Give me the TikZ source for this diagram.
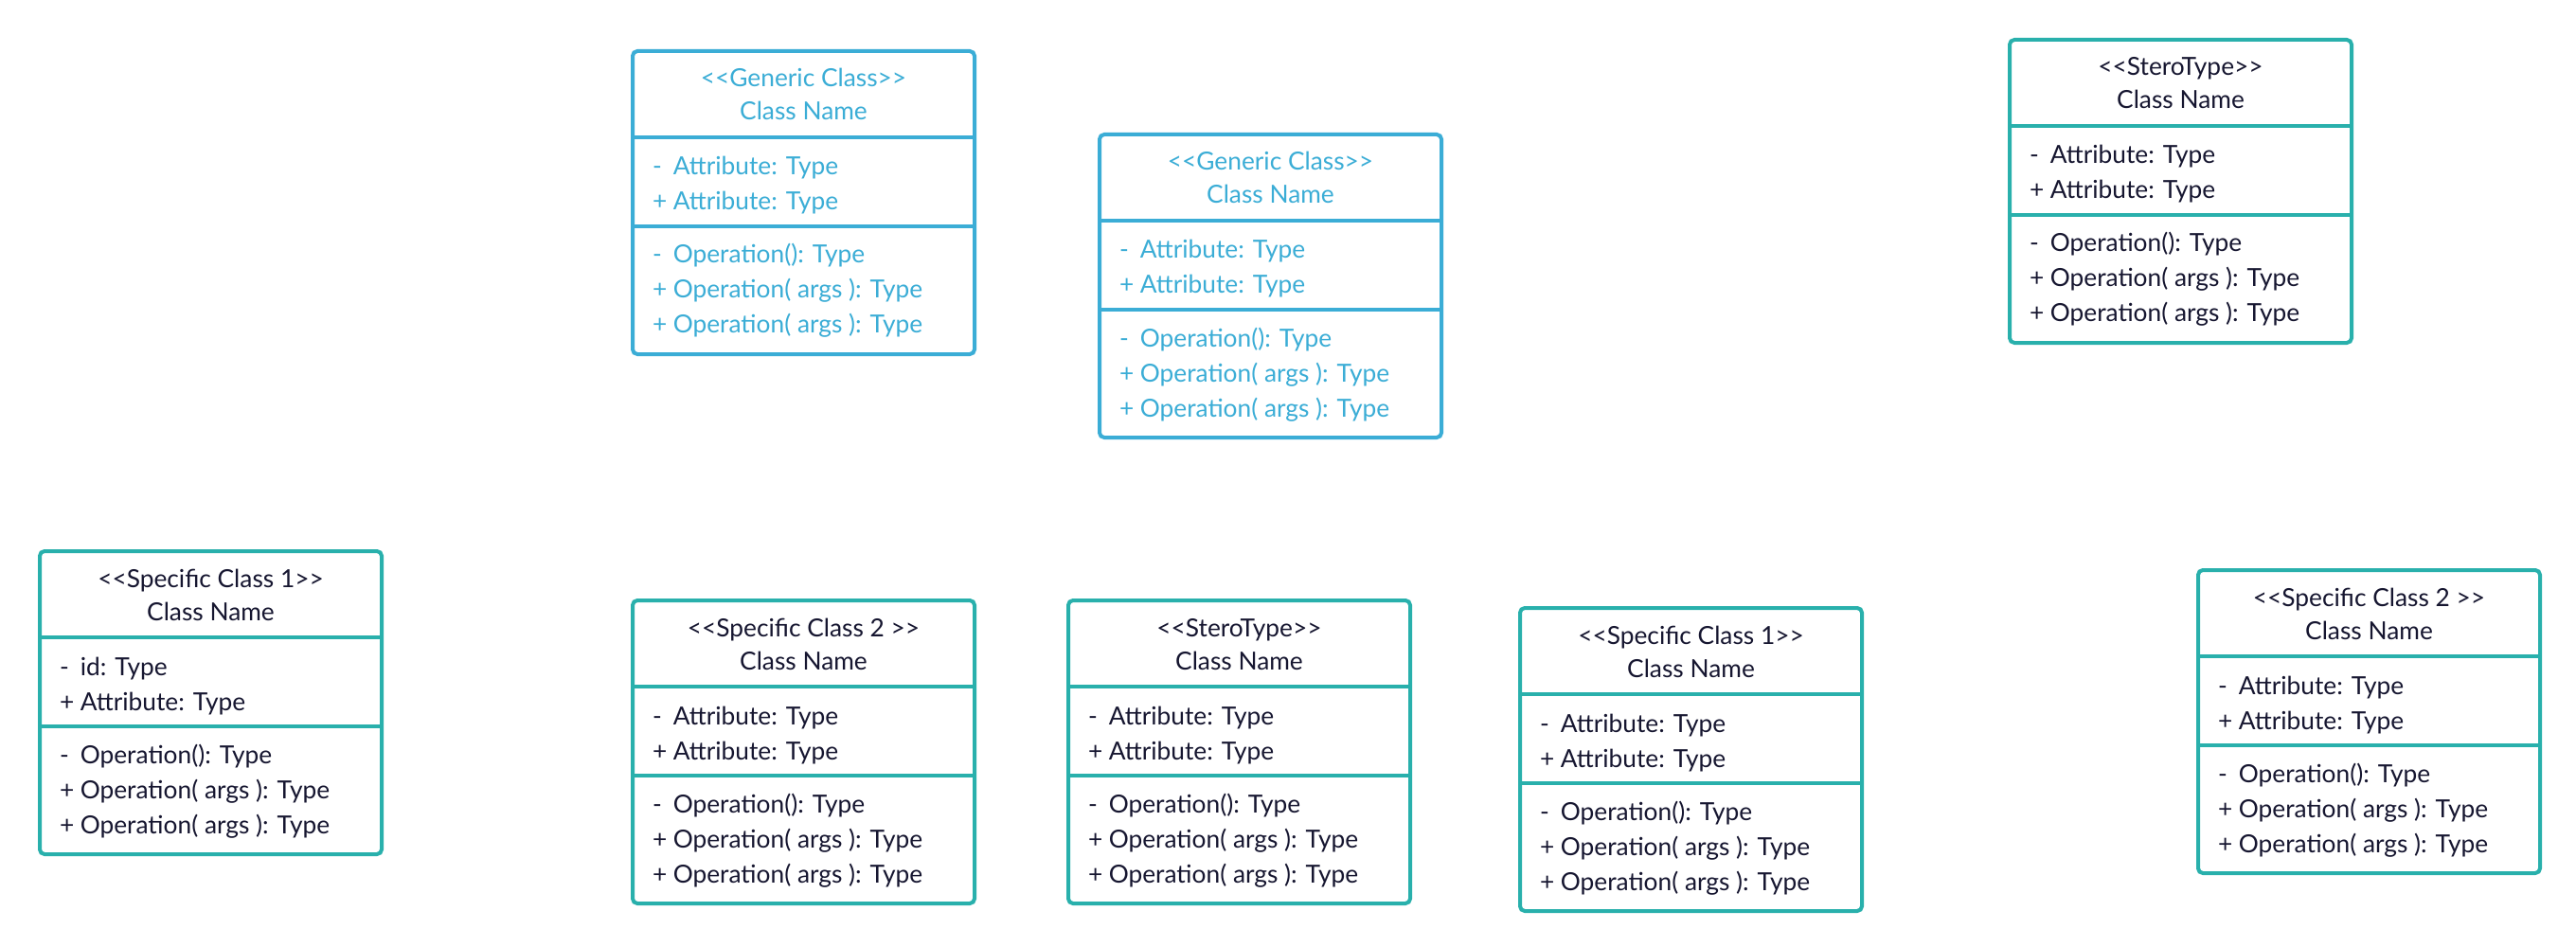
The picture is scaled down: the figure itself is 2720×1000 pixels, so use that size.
\documentclass[tikz,border=0pt]{standalone}
\usepackage{fontspec}
\setmainfont{Lato}[Ligatures=TeXOff]
\usetikzlibrary{calc}
\definecolor{genblue}{RGB}{59,173,214}
\definecolor{specteal}{RGB}{41,176,172}
\definecolor{darktext}{RGB}{22,22,48}
\tikzset{
  umlfont/.style={font=\fontsize{26.3}{34}\selectfont, inner sep=0pt},
  classbox/.style={draw=#1, line width=4pt, rounded corners=5pt, fill=white,
    minimum width=361pt, minimum height=320pt, anchor=north west, inner sep=0pt},
  divider/.style={draw=#1, line width=4pt},
  headtext/.style={umlfont, anchor=base, text=#1},
  rowtext/.style={umlfont, anchor=base west, text=#1},
}
\newcommand{\vis}[1]{\makebox[0.82em][l]{#1}}
% #1 name, #2 left, #3 top, #4 border colour, #5 text colour, #6 stereotype, #7 first attribute
\newcommand{\umlclass}[7]{%
  \node[classbox=#4] (#1) at (#2,#3) {};
  \draw[divider=#4] ([yshift=-93pt]#1.north west) -- ([yshift=-93pt]#1.north east);
  \draw[divider=#4] ([yshift=-187pt]#1.north west) -- ([yshift=-187pt]#1.north east);
  \node[headtext=#5] (#1-st) at ([yshift=-40pt]#1.north) {#6};
  \node[headtext=#5] (#1-nm) at ([yshift=-75pt]#1.north) {Class Name};
  \node[rowtext=#5] (#1-a1) at ([xshift=23pt,yshift=-133pt]#1.north west) {\vis{-}#7: Type};
  \node[rowtext=#5] (#1-a2) at ([xshift=23pt,yshift=-170pt]#1.north west) {\vis{+}Attribute: Type};
  \node[rowtext=#5] (#1-o1) at ([xshift=23pt,yshift=-226pt]#1.north west) {\vis{-}Operation(): Type};
  \node[rowtext=#5] (#1-o2) at ([xshift=23pt,yshift=-263pt]#1.north west) {\vis{+}Operation( args ): Type};
  \node[rowtext=#5] (#1-o3) at ([xshift=23pt,yshift=-300pt]#1.north west) {\vis{+}Operation( args ): Type};
}
\begin{document}
\begin{tikzpicture}[x=1pt, y=-1pt]
\fill[white] (0,0) rectangle (2720,1000);
\useasboundingbox (0,0) rectangle (2720,1000);
\umlclass{g1}{666}{52}{genblue}{genblue}{<<Generic Class>>}{Attribute}
\umlclass{g2}{1159}{140}{genblue}{genblue}{<<Generic Class>>}{Attribute}
\umlclass{st1}{2120}{40}{specteal}{darktext}{<<SteroType>>}{Attribute}
\umlclass{sp1}{40}{580}{specteal}{darktext}{<<Specific Class 1>>}{id}
\umlclass{sp2}{666}{632}{specteal}{darktext}{<<Specific Class 2 >>}{Attribute}
\umlclass{st2}{1126}{632}{specteal}{darktext}{<<SteroType>>}{Attribute}
\umlclass{sp3}{1603}{640}{specteal}{darktext}{<<Specific Class 1>>}{Attribute}
\umlclass{sp4}{2319}{600}{specteal}{darktext}{<<Specific Class 2 >>}{Attribute}
\end{tikzpicture}
\end{document}
